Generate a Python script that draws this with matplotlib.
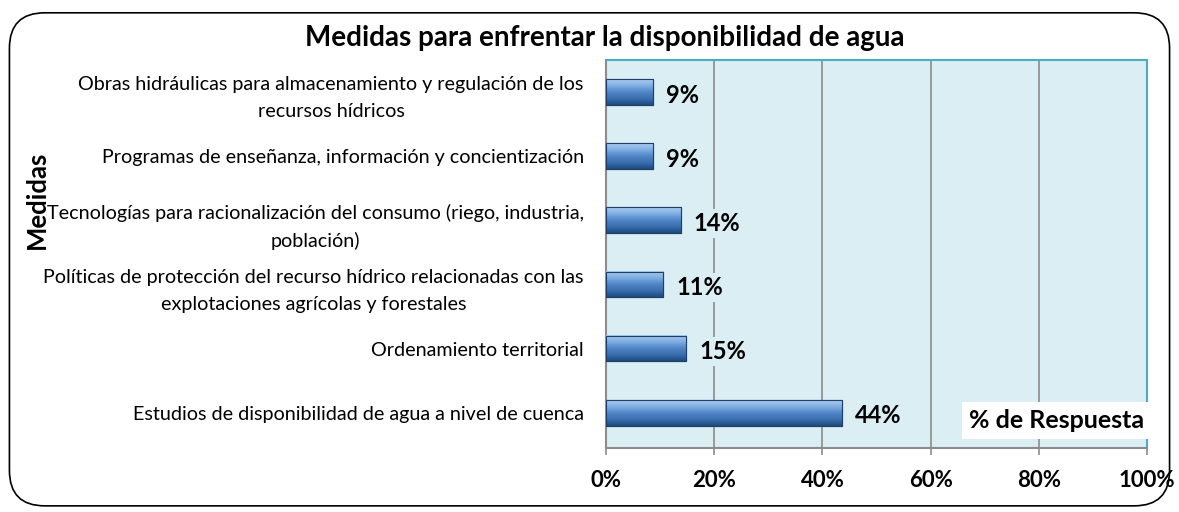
import numpy as np
import matplotlib.pyplot as plt
from matplotlib.patches import FancyBboxPatch
from matplotlib.colors import LinearSegmentedColormap
from matplotlib.ticker import PercentFormatter

plt.rcParams['font.family'] = ['Lato', 'DejaVu Sans']

medidas = [
    "Estudios de disponibilidad de agua a nivel de cuenca",
    "Ordenamiento territorial",
    "Políticas de protección del recurso hídrico relacionadas con las\nexplotaciones agrícolas y forestales",
    "Tecnologías para racionalización del consumo (riego, industria,\npoblación)",
    "Programas de enseñanza, información y concientización",
    "Obras hidráulicas para almacenamiento y regulación de los\nrecursos hídricos",
]
respuesta = [43.6, 14.8, 10.6, 13.8, 8.6, 8.6]

bg = "#DAEEF3"

fig = plt.figure(figsize=(11.79, 5.12), dpi=100)
ax = fig.add_axes([0.514, 0.125, 0.459, 0.758])
ax.set_facecolor(bg)

# rounded frame round the whole chart
frame = FancyBboxPatch((0.008, 0.012), 0.984, 0.963, boxstyle="round,pad=0,rounding_size=0.03",
                       transform=fig.transFigure, fill=False, edgecolor="black", linewidth=1.2,
                       mutation_aspect=1179 / 512)
fig.patches.append(frame)

y = np.arange(len(medidas))
bars = ax.barh(y, respuesta, height=0.4, color="#4A7EBB", edgecolor="#1F4E79", linewidth=0.8, zorder=3)

# shaded gradient on each bar (bottom dark, top light)
cm = LinearSegmentedColormap.from_list("barra", ["#1F4A7E", "#3A6FB0", "#4F86C6", "#7FAEE3", "#A9CBF0"])
grad = np.linspace(0, 1, 50).reshape(-1, 1)
for b in bars:
    x0, y0 = b.get_x(), b.get_y()
    ax.imshow(grad, cmap=cm, aspect="auto", zorder=3.5, origin="lower",
              extent=(x0, x0 + b.get_width(), y0, y0 + b.get_height()), interpolation="bicubic")
    ax.add_patch(plt.Rectangle((x0, y0), b.get_width(), b.get_height(), fill=False,
                               edgecolor="#1F3F66", linewidth=0.8, zorder=4))

for yi, v in zip(y, respuesta):
    ax.text(v + 2.4, yi - 0.05, f"{v:.0f}%", va="center", ha="left", fontsize=17, fontweight="bold",
            zorder=5, bbox=dict(facecolor=bg, edgecolor="none", pad=2))

ax.set_xlim(0, 100)
ax.set_ylim(-0.55, len(medidas) - 0.5)
ax.set_xticks([0, 20, 40, 60, 80, 100])
ax.xaxis.set_major_formatter(PercentFormatter(decimals=0))
ax.grid(axis="x", color="#8C8C8C", linewidth=1.2, zorder=1)
ax.set_axisbelow(True)

ax.set_yticks(y)
ax.set_yticklabels(medidas, fontsize=14.2, multialignment="center", linespacing=1.7)
ax.tick_params(axis="y", length=0, pad=16)
ax.tick_params(axis="x", length=5, width=1.2, color="#8C8C8C", pad=11)
for lbl in ax.get_xticklabels():
    lbl.set_fontweight("bold")
    lbl.set_fontsize(16)

for s in ["left", "bottom"]:
    ax.spines[s].set_color("#8C8C8C")
    ax.spines[s].set_linewidth(1.5)
for s in ["top", "right"]:
    ax.spines[s].set_color("#4BACC6")
    ax.spines[s].set_linewidth(1.5)

ax.text(0.995, 0.07, "% de Respuesta", transform=ax.transAxes, ha="right", va="center",
        fontsize=18, fontweight="bold", zorder=6,
        bbox=dict(facecolor="white", edgecolor="none", pad=5))

fig.text(0.513, 0.925, "Medidas para enfrentar la disponibilidad de agua", ha="center", va="center",
         fontsize=20, fontweight="bold")
fig.text(0.031, 0.61, "Medidas", rotation=90, ha="center", va="center", fontsize=18.5, fontweight="bold")

fig.savefig("out.png", dpi=100)
